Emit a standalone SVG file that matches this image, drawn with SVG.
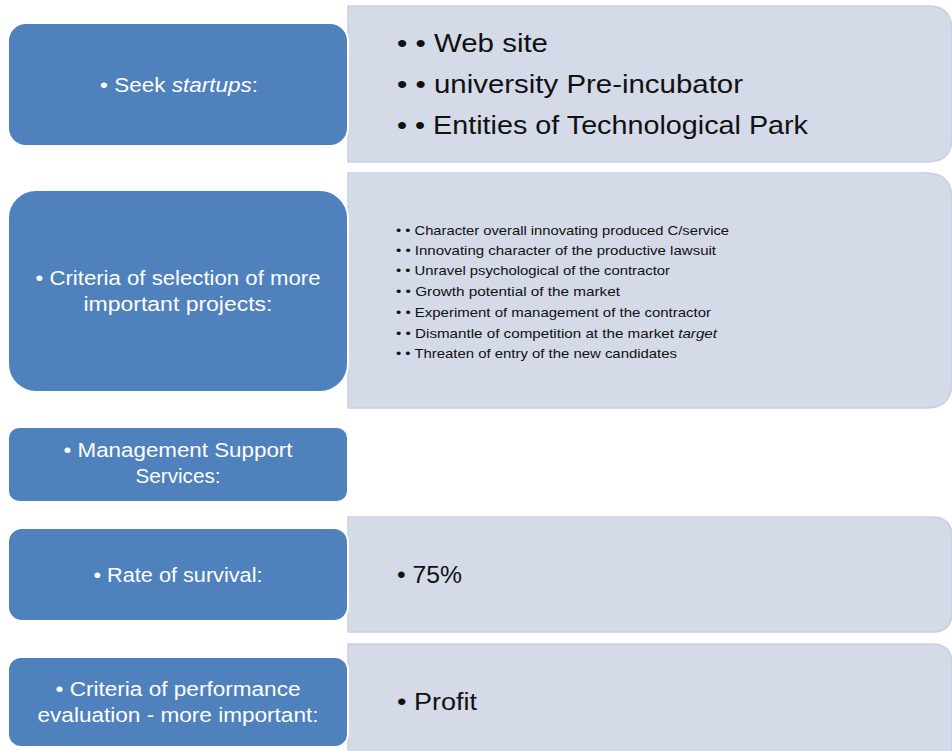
<svg xmlns="http://www.w3.org/2000/svg" width="952" height="751" viewBox="0 0 952 751">
<style>
.lb{fill:#D4DAE8;stroke:#C8CFDF;stroke-width:1.5}
.bb{fill:#4F81BD;stroke:#FFFFFF;stroke-width:2}
.wt{fill:#FFFFFF;font-family:"Liberation Sans",Arial,sans-serif;font-size:20px;text-anchor:middle}
.dk{fill:#111111;font-family:"Liberation Sans",Arial,sans-serif}
.big{font-size:25px}
.sm{font-size:13px}
.md{font-size:23px}
.it{font-style:italic}
</style>
<rect width="952" height="751" fill="#FFFFFF"/>
<g id="detail1">
<path class="lb" d="M348,6 H928 Q952,6 952,30 V138 Q952,162 928,162 H348 Z"/>
<text class="dk big" x="397" y="52" textLength="151" lengthAdjust="spacingAndGlyphs">• • Web site</text>
<text class="dk big" x="397" y="93" textLength="346" lengthAdjust="spacingAndGlyphs">• • university Pre-incubator</text>
<text class="dk big" x="397" y="134" textLength="411" lengthAdjust="spacingAndGlyphs">• • Entities of Technological Park</text>
</g>
<g id="detail2">
<path class="lb" d="M348,173 H926 Q952,173 952,199 V382 Q952,408 926,408 H348 Z"/>
<text class="dk sm" x="396" y="235" textLength="333" lengthAdjust="spacingAndGlyphs">• • Character overall innovating produced C/service</text>
<text class="dk sm" x="396" y="255" textLength="320" lengthAdjust="spacingAndGlyphs">• • Innovating character of the productive lawsuit</text>
<text class="dk sm" x="396" y="275" textLength="274" lengthAdjust="spacingAndGlyphs">• • Unravel psychological of the contractor</text>
<text class="dk sm" x="396" y="296" textLength="224" lengthAdjust="spacingAndGlyphs">• • Growth potential of the market</text>
<text class="dk sm" x="396" y="317" textLength="315" lengthAdjust="spacingAndGlyphs">• • Experiment of management of the contractor</text>
<text class="dk sm" x="396" y="338" textLength="321" lengthAdjust="spacingAndGlyphs">• • Dismantle of competition at the market <tspan class="it">target</tspan></text>
<text class="dk sm" x="396" y="358" textLength="281" lengthAdjust="spacingAndGlyphs">• • Threaten of entry of the new candidates</text>
</g>
<g id="detail4">
<path class="lb" d="M348,517 H932 Q952,517 952,537 V612 Q952,632 932,632 H348 Z"/>
<text class="dk md" x="397" y="583" textLength="65" lengthAdjust="spacingAndGlyphs">• 75%</text>
</g>
<g id="detail5">
<path class="lb" d="M348,644 H932 Q952,644 952,664 V760 H348 Z"/>
<text class="dk md" x="397" y="710" textLength="80" lengthAdjust="spacingAndGlyphs">• Profit</text>
</g>
<g id="seek">
<rect class="bb" x="8" y="23" width="340" height="123" rx="18"/>
<text class="wt" x="179" y="92" textLength="158" lengthAdjust="spacingAndGlyphs">• Seek <tspan class="it">startups</tspan>:</text>
</g>
<g id="criteria">
<rect class="bb" x="8" y="190" width="340" height="202" rx="28"/>
<text class="wt" x="178" y="285" textLength="285" lengthAdjust="spacingAndGlyphs">• Criteria of selection of more</text>
<text class="wt" x="178" y="311" textLength="189" lengthAdjust="spacingAndGlyphs">important projects:</text>
</g>
<g id="management">
<rect class="bb" x="8" y="427" width="340" height="75" rx="11"/>
<text class="wt" x="178" y="457" textLength="229" lengthAdjust="spacingAndGlyphs">• Management Support</text>
<text class="wt" x="178" y="483" textLength="85" lengthAdjust="spacingAndGlyphs">Services:</text>
</g>
<g id="survival">
<rect class="bb" x="8" y="528" width="340" height="93" rx="14"/>
<text class="wt" x="178" y="582" textLength="169" lengthAdjust="spacingAndGlyphs">• Rate of survival:</text>
</g>
<g id="performance">
<rect class="bb" x="8" y="657" width="340" height="90" rx="13"/>
<text class="wt" x="178" y="696" textLength="245" lengthAdjust="spacingAndGlyphs">• Criteria of performance</text>
<text class="wt" x="178" y="722" textLength="281" lengthAdjust="spacingAndGlyphs">evaluation - more important:</text>
</g>
<g id="connectors"></g>
</svg>
